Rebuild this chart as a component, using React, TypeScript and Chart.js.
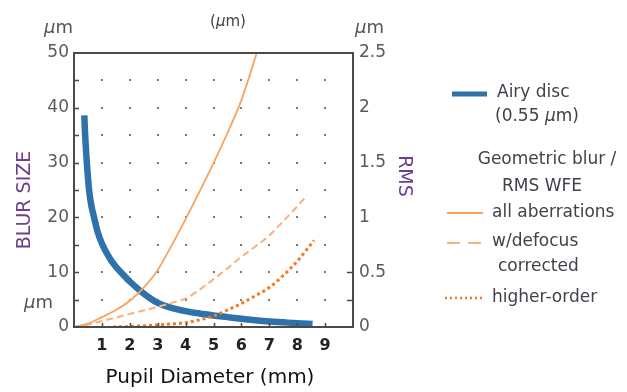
import React, { useEffect, useRef } from "react";
import { Chart, registerables } from "chart.js";

Chart.register(...registerables);

// Pupil diameter (mm) / blur size (µm)
const airyX = [0.37, 0.4, 0.46, 0.54, 0.62, 0.72, 0.85, 1.02, 1.25, 1.45, 1.68, 2.0, 2.5, 3.0, 3.5, 4.0, 4.5, 5.0, 5.5, 6.0, 6.5, 7.0, 7.5, 8.0, 8.55];
const airyY = [38.6, 35, 30, 25, 22.2, 20, 17.3, 15, 12.8, 11.3, 10, 8.3, 6.1, 4.4, 3.5, 2.9, 2.45, 2.1, 1.8, 1.5, 1.22, 1.0, 0.85, 0.7, 0.55];

const allX = [0, 0.5, 1, 1.5, 2, 2.5, 3, 3.5, 4, 4.5, 5, 5.5, 6, 6.55];
const allY = [0, 0.6, 1.8, 3.1, 4.8, 7.2, 10.4, 14.9, 19.7, 24.7, 29.9, 35.4, 41.4, 50];

const defX = [0, 0.5, 1, 1.5, 2, 2.5, 3, 3.5, 4, 4.5, 5, 5.5, 6, 6.5, 7, 7.5, 8, 8.35];
const defY = [0, 0.4, 1.1, 1.7, 2.4, 3.0, 3.7, 4.4, 5.2, 6.8, 8.7, 10.7, 12.8, 14.7, 16.7, 19.3, 22.0, 24];

const hoX = [1.4, 2, 2.5, 3, 3.5, 4, 4.5, 5, 5.5, 6, 6.5, 7, 7.5, 8, 8.6];
const hoY = [0, 0.08, 0.22, 0.38, 0.55, 0.8, 1.3, 2.0, 3.1, 4.3, 5.7, 7.2, 9.4, 12.0, 15.8];

const xTickLabels = ["1", "2", "3", "4", "5", "6", "7", "8", "9"];
const legendLabels = ["Airy disc", "all aberrations", "w/defocus", "higher-order"];

const COL_AIRY = "#2f72ab";
const COL_ALL = "#f9a25c";
const COL_DEF = "#f9b07a";
const COL_HO = "#f47a22";
const FONT = "'DejaVu Sans', Verdana, sans-serif";

type Part = { t: string; italic?: boolean };

function drawRich(ctx: CanvasRenderingContext2D, parts: Part[], x: number, y: number, size: number, align: "left" | "center" | "right", color: string) {
  ctx.save();
  ctx.fillStyle = color;
  ctx.textBaseline = "middle";
  ctx.textAlign = "left";
  const fonts = parts.map((p) => `${p.italic ? "italic " : ""}${size}px ${FONT}`);
  let total = 0;
  const widths = parts.map((p, i) => {
    ctx.font = fonts[i];
    const w = ctx.measureText(p.t).width;
    total += w;
    return w;
  });
  let cx = align === "left" ? x : align === "center" ? x - total / 2 : x - total;
  parts.forEach((p, i) => {
    ctx.font = fonts[i];
    ctx.fillText(p.t, cx, y);
    cx += widths[i];
  });
  ctx.restore();
}

const decorPlugin = {
  id: "decor",
  beforeDatasetsDraw(chart: any) {
    const { ctx, scales } = chart;
    const xs = scales.x, ys = scales.y;
    ctx.save();
    ctx.fillStyle = "#7a7a7a";
    for (let gx = 1; gx <= 9; gx++) {
      for (let gy = 5; gy <= 45; gy += 5) {
        const px = xs.getPixelForValue(gx);
        const py = ys.getPixelForValue(gy);
        ctx.fillRect(Math.round(px) - 1, Math.round(py) - 1, 2, 2);
      }
    }
    ctx.restore();
  },
  afterDatasetsDraw(chart: any) {
    const { ctx, chartArea: a, scales } = chart;
    const xs = scales.x, ys = scales.y, y2 = scales.y2;
    ctx.save();
    ctx.strokeStyle = "#4a4a4a";
    ctx.lineWidth = 2;
    ctx.strokeRect(a.left, a.top, a.right - a.left, a.bottom - a.top);
    ctx.lineWidth = 1.5;
    ctx.beginPath();
    for (let gy = 5; gy <= 45; gy += 5) {
      const py = Math.round(ys.getPixelForValue(gy)) + 0.5;
      ctx.moveTo(a.left, py);
      ctx.lineTo(a.left + 5, py);
    }
    for (let gx = 1; gx <= 9; gx++) {
      const px = Math.round(xs.getPixelForValue(gx)) + 0.5;
      ctx.moveTo(px, a.bottom);
      ctx.lineTo(px, a.bottom - 4);
    }
    [0.25, 0.5].forEach((v) => {
      const py = Math.round(y2.getPixelForValue(v)) + 0.5;
      ctx.moveTo(a.right, py);
      ctx.lineTo(a.right - 6, py);
    });
    ctx.stroke();
    ctx.restore();

    // axis annotations
    drawRich(ctx, [{ t: "(" }, { t: "µ", italic: true }, { t: "m)" }], 228, 22, 15, "center", "#444");
    drawRich(ctx, [{ t: "µ", italic: true }, { t: "m" }], 73, 28, 18, "right", "#555");
    drawRich(ctx, [{ t: "µ", italic: true }, { t: "m" }], 355, 28, 18, "left", "#555");
    drawRich(ctx, [{ t: "µ", italic: true }, { t: "m" }], 53, 303, 18, "right", "#555");

    ctx.save();
    ctx.translate(25, 200);
    ctx.rotate(-Math.PI / 2);
    drawRich(ctx, [{ t: "BLUR SIZE" }], 0, 0, 19, "center", "#6e3f8a");
    ctx.restore();

    ctx.save();
    ctx.translate(404, 176);
    ctx.rotate(Math.PI / 2);
    drawRich(ctx, [{ t: "RMS" }], 0, 0, 19, "center", "#6a3f96");
    ctx.restore();

    drawRich(ctx, [{ t: "Pupil Diameter (mm)" }], 210, 378, 20, "center", "#111");

    // legend
    const ds = chart.data.datasets;
    const L = 17;
    const tc = "#44404a";
    ctx.save();
    ctx.lineCap = "butt";
    ctx.strokeStyle = ds[0].borderColor;
    ctx.lineWidth = 5;
    ctx.beginPath(); ctx.moveTo(452, 94); ctx.lineTo(487, 94); ctx.stroke();
    ctx.strokeStyle = ds[1].borderColor;
    ctx.lineWidth = 2;
    ctx.beginPath(); ctx.moveTo(447, 213); ctx.lineTo(483, 213); ctx.stroke();
    ctx.strokeStyle = ds[2].borderColor;
    ctx.lineWidth = 2;
    ctx.setLineDash([13, 8]);
    ctx.beginPath(); ctx.moveTo(447, 243); ctx.lineTo(483, 243); ctx.stroke();
    ctx.strokeStyle = ds[3].borderColor;
    ctx.lineWidth = 2.5;
    ctx.setLineDash([2, 3]);
    ctx.beginPath(); ctx.moveTo(445, 298); ctx.lineTo(484, 298); ctx.stroke();
    ctx.restore();

    drawRich(ctx, [{ t: legendLabels[0] }], 497, 93, L, "left", tc);
    drawRich(ctx, [{ t: "(0.55 " }, { t: "µ", italic: true }, { t: "m)" }], 495, 117, L, "left", tc);
    drawRich(ctx, [{ t: "Geometric blur /" }], 547, 160, L, "center", tc);
    drawRich(ctx, [{ t: "RMS WFE" }], 542, 187, L, "center", tc);
    drawRich(ctx, [{ t: legendLabels[1] }], 492, 213, L, "left", tc);
    drawRich(ctx, [{ t: legendLabels[2] }], 492, 242, L, "left", tc);
    drawRich(ctx, [{ t: "corrected" }], 498, 267, L, "left", tc);
    drawRich(ctx, [{ t: legendLabels[3] }], 492, 298, L, "left", tc);
  },
};

const pts = (xs: number[], ys: number[]) => xs.map((x, i) => ({ x, y: ys[i] }));

export default function App() {
  const ref = useRef<HTMLCanvasElement | null>(null);
  useEffect(() => {
    if (!ref.current) return;
    const chart = new Chart(ref.current, {
      type: "line",
      data: {
        datasets: [
          { label: legendLabels[0], data: pts(airyX, airyY), borderColor: COL_AIRY, borderWidth: 6.5, pointRadius: 0, cubicInterpolationMode: "monotone", borderCapStyle: "butt", yAxisID: "y", order: 4 } as any,
          { label: legendLabels[1], data: pts(allX, allY), borderColor: COL_ALL, borderWidth: 1.8, pointRadius: 0, cubicInterpolationMode: "monotone", yAxisID: "y", order: 1 },
          { label: legendLabels[2], data: pts(defX, defY), borderColor: COL_DEF, borderWidth: 2, borderDash: [7, 4], pointRadius: 0, cubicInterpolationMode: "monotone", yAxisID: "y", order: 2 },
          { label: legendLabels[3], data: pts(hoX, hoY), borderColor: COL_HO, borderWidth: 3, borderDash: [3, 3], pointRadius: 0, cubicInterpolationMode: "monotone", yAxisID: "y", order: 3 },
        ],
      },
      options: {
        responsive: false,
        animation: false,
        devicePixelRatio: 1,
        layout: { padding: { top: 53, left: 0, right: 0, bottom: 0 } },
        plugins: { legend: { display: false }, tooltip: { enabled: false } },
        scales: {
          x: {
            type: "linear",
            min: 0,
            max: 10,
            grid: { display: false, drawTicks: false },
            border: { display: false },
            ticks: {
              stepSize: 1,
              autoSkip: false,
              maxRotation: 0,
              padding: 9,
              color: "#222",
              font: { family: FONT, size: 16, weight: "bold" },
              callback: (v: any) => (v >= 1 && v <= 9 ? xTickLabels[v - 1] : ""),
            },
            afterFit: (s: any) => { s.height = 65; },
          },
          y: {
            type: "linear",
            position: "left",
            min: 0,
            max: 50,
            grid: { display: false, drawTicks: false },
            border: { display: false },
            ticks: { stepSize: 10, padding: 5, color: "#5a5a5a", font: { family: FONT, size: 17 }, callback: (v: any) => String(v) },
            afterFit: (s: any) => { s.width = 74; },
          },
          y2: {
            type: "linear",
            position: "right",
            min: 0,
            max: 2.5,
            grid: { display: false, drawTicks: false },
            border: { display: false },
            ticks: { stepSize: 0.5, padding: 6, color: "#5a5a5a", font: { family: FONT, size: 17 }, callback: (v: any) => String(Number(v)) },
            afterFit: (s: any) => { s.width = 274; },
          },
        },
      } as any,
      plugins: [decorPlugin],
    });
    return () => chart.destroy();
  }, []);
  return (
    <div style={{ position: "absolute", left: 0, top: 0, width: 627, height: 392, background: "#fff" }}>
      <canvas ref={ref} width={627} height={392} style={{ width: 627, height: 392, display: "block" }} />
    </div>
  );
}
